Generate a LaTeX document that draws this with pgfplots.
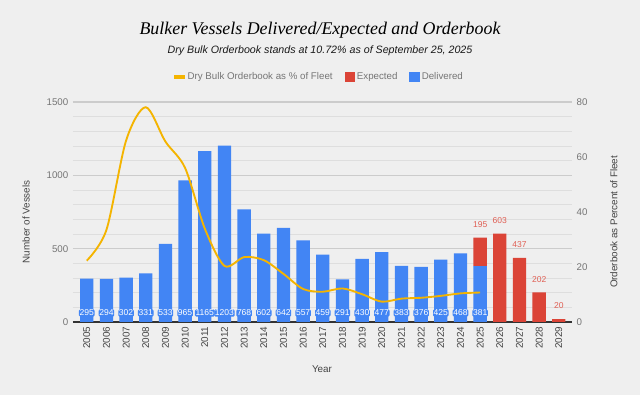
\documentclass[border=0pt]{standalone}
\usepackage{fontspec}
\setmainfont{Liberation Sans}
\newfontfamily\titlefont{Liberation Serif}
\usepackage{pgfplots}
\pgfplotsset{compat=1.18}
\definecolor{bg}{HTML}{EFEFEF}
\definecolor{blueb}{HTML}{4285F4}
\definecolor{redb}{HTML}{DB4437}
\definecolor{yel}{HTML}{F4B400}
\definecolor{gridmaj}{HTML}{CCCCCC}
\definecolor{gridmin}{HTML}{DEDEDE}
\definecolor{txtgray}{HTML}{757575}
\definecolor{txtdark}{HTML}{444444}
\definecolor{redlab}{HTML}{E06055}
\pgfplotsset{
  common/.style={
    at={(54.75pt,54.75pt)}, anchor=south west,
    scale only axis, width=374.25pt, height=165pt,
    xmin=2004.3, xmax=2029.67,
    /pgf/number format/assume math mode=true,
    /pgf/number format/1000 sep={},
  }
}
\begin{document}
\begin{tikzpicture}
\path[use as bounding box, fill=bg] (0,0) rectangle (480pt,296.25pt);
\node[font=\titlefont\itshape\fontsize{13.4pt}{15pt}\selectfont, text=black] at (240pt,273.75pt) {Bulker Vessels Delivered/Expected and Orderbook};
\node[font=\itshape\fontsize{8pt}{10pt}\selectfont, text=black!90] at (240pt,258pt) {Dry Bulk Orderbook stands at 10.72\% as of September 25, 2025};

% bars
\begin{axis}[common,
  ybar stacked, bar width=10pt,
  ymin=0, ymax=1500,
  xtick={2005,2006,...,2029},
  xticklabel style={rotate=90, anchor=east, font=\fontsize{7.4pt}{8pt}\selectfont, text=txtdark},
  ytick={0,500,1000,1500},
  minor ytick={100,200,300,400,600,700,800,900,1100,1200,1300,1400},
  yticklabel style={font=\fontsize{7.3pt}{8pt}\selectfont, text=txtgray},
  ymajorgrids, yminorgrids,
  major grid style={gridmaj, line width=0.8pt},
  minor grid style={gridmin, line width=0.6pt},
  axis x line*=bottom, axis y line*=left,
  y axis line style={draw=none},
  x axis line style={draw=black!80, line width=0.9pt},
  tick style={draw=none},
  xlabel={Year}, ylabel={Number of Vessels},
  xlabel style={at={(axis description cs:0.499,-0.2136)}, anchor=center, font=\fontsize{7.4pt}{9pt}\selectfont, text=txtdark},
  ylabel style={at={(axis description cs:-0.0942,0.455)}, anchor=center, rotate=0, font=\fontsize{7.4pt}{9pt}\selectfont, text=txtdark},
]
\addplot[fill=blueb, draw=none] coordinates {
(2005,295) (2006,294) (2007,302) (2008,331) (2009,533) (2010,965) (2011,1165)
(2012,1203) (2013,768) (2014,602) (2015,642) (2016,557) (2017,459) (2018,291)
(2019,430) (2020,477) (2021,383) (2022,376) (2023,425) (2024,468) (2025,381)
(2026,0) (2027,0) (2028,0) (2029,0)};
\addplot[fill=redb, draw=none] coordinates {
(2005,0) (2006,0) (2007,0) (2008,0) (2009,0) (2010,0) (2011,0)
(2012,0) (2013,0) (2014,0) (2015,0) (2016,0) (2017,0) (2018,0)
(2019,0) (2020,0) (2021,0) (2022,0) (2023,0) (2024,0) (2025,195)
(2026,603) (2027,437) (2028,202) (2029,20)};
\end{axis}

% value labels
\begin{axis}[common, ymin=0, ymax=1500, hide axis, clip=false]
\addplot[only marks, mark=*, mark size=0pt, mark options={draw=none, fill=none},
  point meta=explicit symbolic, nodes near coords,
  nodes near coords style={anchor=center, text=white, fill=blueb, inner sep=0.5pt, rounded corners=1pt, font=\fontsize{6.4pt}{7pt}\selectfont}]
coordinates {
(2005,61)[295] (2006,61)[294] (2007,61)[302] (2008,61)[331] (2009,61)[533]
(2010,61)[965] (2011,61)[1165] (2012,61)[1203] (2013,61)[768] (2014,61)[602]
(2015,61)[642] (2016,61)[557] (2017,61)[459] (2018,61)[291] (2019,61)[430]
(2020,61)[477] (2021,61)[383] (2022,61)[376] (2023,61)[425] (2024,61)[468]
(2025,61)[381]};
\addplot[only marks, mark=*, mark size=0pt, mark options={draw=none, fill=none},
  point meta=explicit symbolic, nodes near coords,
  nodes near coords style={anchor=center, text=redlab, inner sep=0pt, font=\fontsize{6.4pt}{7pt}\selectfont}]
coordinates {
(2025,665)[195] (2026,692)[603] (2027,526)[437] (2028,291)[202] (2029,109)[20]};
\end{axis}

% orderbook line, right axis, legend
\begin{axis}[common,
  ymin=0, ymax=80,
  axis y line*=right, axis x line=none,
  y axis line style={draw=none},
  tick style={draw=none},
  ytick={0,20,40,60,80},
  yticklabel style={font=\fontsize{7.3pt}{8pt}\selectfont, text=txtgray},
  ylabel={Orderbook as Percent of Fleet},
  ylabel style={at={(axis description cs:1.084,0.455)}, anchor=center, rotate=0, font=\fontsize{7.4pt}{9pt}\selectfont, text=txtdark},
  legend style={at={(axis description cs:0.495,1.1136)}, anchor=center, draw=none, fill=none,
    font=\fontsize{7.3pt}{8pt}\selectfont, text=txtgray, legend columns=3,
    /tikz/every even column/.append style={column sep=7pt}},
  legend cell align=left,
]
\addplot[yel, line width=1.4pt, smooth, forget plot] coordinates {
(2005,22.3) (2006,33.5) (2007,66.0) (2008,78.1) (2009,65.6) (2010,56.0) (2011,34.0)
(2012,20.4) (2013,23.6) (2014,22.5) (2015,17.5) (2016,12.0) (2017,11.0) (2018,12.2)
(2019,10.1) (2020,7.4) (2021,8.5) (2022,8.8) (2023,9.5) (2024,10.4) (2025,10.72)};
\addlegendimage{legend image code/.code={\fill[yel] (0pt,-1.1pt) rectangle (7.5pt,1.1pt);}}
\addlegendentry{Dry Bulk Orderbook as \% of Fleet}
\addlegendimage{legend image code/.code={\fill[redb] (0pt,-3.4pt) rectangle (6.8pt,3.4pt);}}
\addlegendentry{Expected}
\addlegendimage{legend image code/.code={\fill[blueb] (0pt,-3.4pt) rectangle (6.8pt,3.4pt);}}
\addlegendentry{Delivered}
\end{axis}
\end{tikzpicture}
\end{document}
